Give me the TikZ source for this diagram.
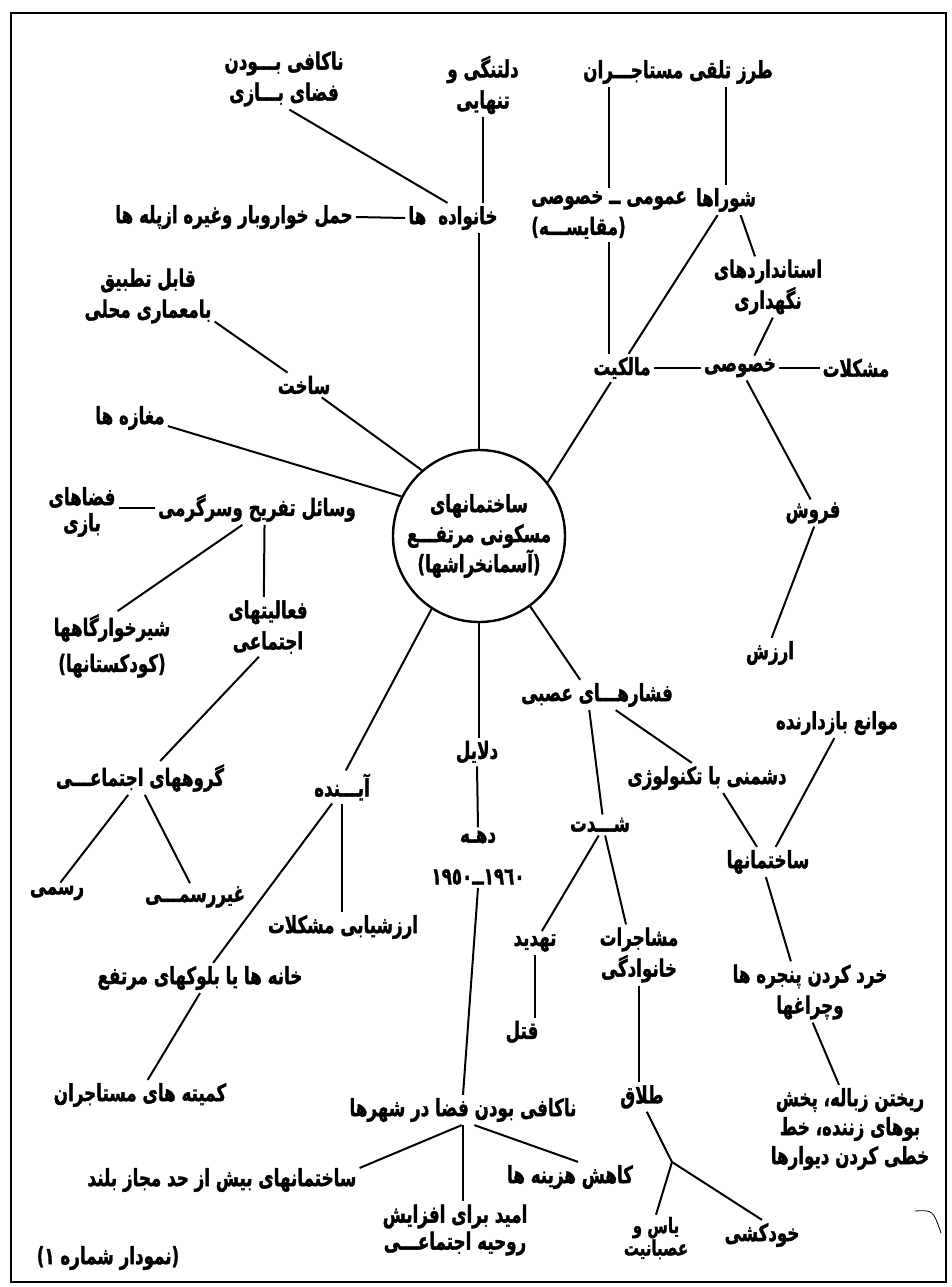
\documentclass[tikz,border=0pt]{standalone}
\usepackage{fontspec}
\usepackage{graphicx}
\newfontfamily\fafont[Script=Arabic,BoldFeatures={FakeStretch=0.88,FakeBold=1.6}]{DejaVu Sans}
\TeXXeTstate=1
\newcommand{\fatxt}[1]{\scalebox{1}[1.25]{\beginR#1\endR}}
\tikzset{
  lbl/.style={font=\fafont\bfseries\fontsize{19}{31}\selectfont, align=center, inner sep=3pt},
  lblsmall/.style={font=\fafont\bfseries\fontsize{17}{20}\selectfont, align=center, inner sep=2pt},
  hub/.style={circle, draw, line width=2.4pt, minimum size=172pt, inner sep=0pt,
    font=\fafont\bfseries\fontsize{19}{30}\selectfont, align=center},
  link/.style={line width=2pt}
}

\begin{document}
\begin{tikzpicture}[x=1pt,y=-1pt]
  \useasboundingbox (0,0) rectangle (952,1287);
  % Rahmen
  \draw[line width=2.6pt] (11,13) rectangle (946,1282);
  % Mitte
  \node[hub] (hub) at (479,536) {\fatxt{ساختمانهای}\\\fatxt{مسکونی مرتفـــع}\\\fatxt{(آسمانخراشها)}};
  % oben
  \node[lbl] (kafi) at (284,79) {\fatxt{ناکافی بـــودن}\\\fatxt{فضای بـــازی}};
  \node[lbl] (deltangi) at (483,85) {\fatxt{دلتنگی و}\\\fatxt{تنهایی}};
  \node[lbl] (tarz) at (678,72) {\fatxt{طرز تلقی مستاجـــران}};
  \node[lbl] (khan) at (453,218) {\fatxt{خانواده\hspace{12pt}ها}};
  \node[lbl] (haml) at (234,217) {\fatxt{حمل خواروبار وغیره ازپله ها}};
  \node[lbl, align=left] (omumi) at (609,215) {\fatxt{عمومی ــ خصوصی}\\\fatxt{(مقایســـه)}};
  \node[lbl] (shoraha) at (726,200) {\fatxt{شوراها}};
  \node[lbl] (standard) at (768,287) {\fatxt{استانداردهای}\\\fatxt{نگهداری}};
  \node[lbl] (malekiat) at (622,368) {\fatxt{مالکیت}};
  \node[lbl] (khosusi) at (740,368) {\fatxt{خصوصی}};
  \node[lbl] (moshkelat) at (856,368) {\fatxt{مشکلات}};
  \node[lbl] (forush) at (813,513) {\fatxt{فروش}};
  \node[lbl] (arzesh) at (770,653) {\fatxt{ارزش}};
  % links
  \node[lbl] (ghabel) at (148,296) {\fatxt{قابل تطبیق}\\\fatxt{بامعماری محلی}};
  \node[lbl] (sakht) at (304,385) {\fatxt{ساخت}};
  \node[lbl] (maghaze) at (130,418) {\fatxt{مغازه ها}};
  \node[lbl] (vasael) at (257,508) {\fatxt{وسائل تفریح وسرگرمی}};
  \node[lbl, font=\fafont\bfseries\fontsize{19}{26}\selectfont] (fazaha) at (82,512) {\fatxt{فضاهای}\\\fatxt{بازی}};
  \node[lbl, font=\fafont\bfseries\fontsize{19}{36}\selectfont] (shirkhar) at (112,646) {\fatxt{شیرخوارگاهها}\\\fatxt{(کودکستانها)}};
  \node[lbl] (faaliat) at (268,627) {\fatxt{فعالیتهای}\\\fatxt{اجتماعی}};
  \node[lbl] (goruh) at (140,778) {\fatxt{گروههای اجتماعـــی}};
  \node[lbl] (rasmi) at (57,893) {\fatxt{رسمی}};
  \node[lbl] (gheyr) at (195,897) {\fatxt{غیررسمـــی}};
  % unten
  \node[lbl] (ayande) at (342,787) {\fatxt{آیـــنده}};
  \node[lbl] (arzyabi) at (343,927) {\fatxt{ارزشیابی مشکلات}};
  \node[lbl] (khane) at (200,978) {\fatxt{خانه ها یا بلوکهای مرتفع}};
  \node[lbl] (komite) at (140,1095) {\fatxt{کمیته های مستاجران}};
  \node[lbl] (dalayel) at (477,752) {\fatxt{دلایل}};
  \node[lbl] (dahe) at (478,837) {\fatxt{دهـه}};
  \node[lbl] (years) at (478,877) {\scalebox{1}[1.25]{١٩٦٠ــ١٩٥٠}};
  \node[lbl] (nakafi) at (463,1110) {\fatxt{ناکافی بودن فضا در شهرها}};
  \node[lbl] (boland) at (222,1180) {\fatxt{ساختمانهای بیش از حد مجاز بلند}};
  \node[lbl, font=\fafont\bfseries\fontsize{19}{27}\selectfont] (omid) at (455,1230) {\fatxt{امید برای افزایش}\\\fatxt{روحیه اجتماعـــی}};
  \node[lbl] (kahesh) at (570,1177) {\fatxt{کاهش هزینه ها}};
  % rechts unten
  \node[lbl] (fashar) at (597,695) {\fatxt{فشارهـــای عصبی}};
  \node[lbl] (shedat) at (600,825) {\fatxt{شـــدت}};
  \node[lbl] (doshmani) at (707,778) {\fatxt{دشمنی با تکنولوژی}};
  \node[lbl] (mavane) at (837,723) {\fatxt{موانع بازدارنده}};
  \node[lbl] (sakhtemanha) at (768,862) {\fatxt{ساختمانها}};
  \node[lbl] (khord) at (810,992) {\fatxt{خرد کردن پنجره ها}\\\fatxt{وچراغها}};
  \node[lbl, font=\fafont\bfseries\fontsize{19}{29}\selectfont] (rikhtan) at (850,1129) {\fatxt{ریختن زباله، پخش}\\\fatxt{بوهای زننده، خط}\\\fatxt{خطی کردن دیوارها}};
  \node[lbl] (tahdid) at (535,943) {\fatxt{تهدید}};
  \node[lbl] (ghatl) at (522,1032) {\fatxt{قتل}};
  \node[lbl] (moshajerat) at (639,955) {\fatxt{مشاجرات}\\\fatxt{خانوادگی}};
  \node[lbl] (talagh) at (642,1097) {\fatxt{طلاق}};
  \node[lblsmall] (yas) at (656,1238) {\fatxt{یاس و}\\\fatxt{عصبانیت}};
  \node[lbl] (khodkoshi) at (762,1235) {\fatxt{خودکشی}};
  \coordinate (fork) at (672,1162);
  \node[lbl] (caption) at (108,1258) {\fatxt{(نمودار شماره ١)}};
  % Verbindungen oben
  \draw[link] (kafi.-80) -- (khan.110);
  \draw[link] (deltangi.south) -- (deltangi.south |- khan.north);
  \draw[link] (hub.north |- khan.south) -- (hub.north);
  \draw[link] (khan.west) -- (haml.east);
  \draw[link] (omumi.north |- tarz.south) -- (omumi.north);
  \draw[link] (shoraha.north |- tarz.south) -- (shoraha.north);
  \draw[link] (omumi.south) -- (omumi.south |- malekiat.north);
  \draw[link] (shoraha.-119) -- (malekiat.65);
  \draw[link] (shoraha.-46) -- (standard.113);
  \draw[link] (standard.-81) -- (khosusi.41);
  \draw[link] (malekiat.east) -- (khosusi.west);
  \draw[link] (khosusi.east) -- (moshkelat.west);
  \draw[link] (khosusi.-62) -- (forush.100);
  \draw[link] (forush.-85) -- (arzesh.84);
  \draw[link] (malekiat.-128) -- (hub.38);
  % Verbindungen links
  \draw[link] (ghabel.-21) -- (sakht.143);
  \draw[link] (sakht.-35) -- (hub.131);
  \draw[link] (maghaze.-12) -- (hub.153);
  \draw[link] (vasael.west) -- (vasael.west -| fazaha.east);
  \draw[link] (vasael.-131) -- (shirkhar.81);
  \draw[link] (vasael.-66) -- (faaliat.98);
  \draw[link] (faaliat.-107) -- (goruh.40);
  \draw[link] (goruh.-125) -- (rasmi.72);
  \draw[link] (goruh.-74) -- (gheyr.110);
  % Verbindungen unten
  \draw[link] (hub.-123) -- (ayande.77);
  \draw[link] (ayande.-121) -- (khane.49);
  \draw[link] (ayande.south) -- (ayande.south |- arzyabi.north);
  \draw[link] (khane.-90) -- (komite.63);
  \draw[link] (hub.south) -- (hub.south |- dalayel.north);
  \draw[link] (dalayel.south) -- (dahe.north);
  \draw[link] (years.south) -- (nakafi.north);
  \draw[link] (nakafi.-95) -- (boland.5);
  \draw[link] (nakafi.south) -- (nakafi.south |- omid.north);
  \draw[link] (nakafi.-53) -- (kahesh.62);
  % Verbindungen rechts unten
  \draw[link] (hub.-54) -- (fashar.138);
  \draw[link] (fashar.-117) -- (shedat.77);
  \draw[link] (fashar.-39) -- (doshmani.135);
  \draw[link] (doshmani.-43) -- (sakhtemanha.126);
  \draw[link] (mavane.-100) -- (sakhtemanha.63);
  \draw[link] (sakhtemanha.-98) -- (khord.122);
  \draw[link] (khord.-85) -- (rikhtan.104);
  \draw[link] (shedat.-97) -- (tahdid.60);
  \draw[link] (shedat.-64) -- (moshajerat.113);
  \draw[link] (tahdid.south) -- (tahdid.south |- ghatl.north);
  \draw[link] (moshajerat.south) -- (moshajerat.south |- talagh.north);
  \draw[link] (talagh.-72) -- (fork);
  \draw[link] (fork) -- (yas.north);
  \draw[link] (fork) -- (khodkoshi.north);
  % Fleck
  \draw[line width=0.8pt] (915,1211) .. controls (933,1210) .. (941,1233);
\end{tikzpicture}
\end{document}
